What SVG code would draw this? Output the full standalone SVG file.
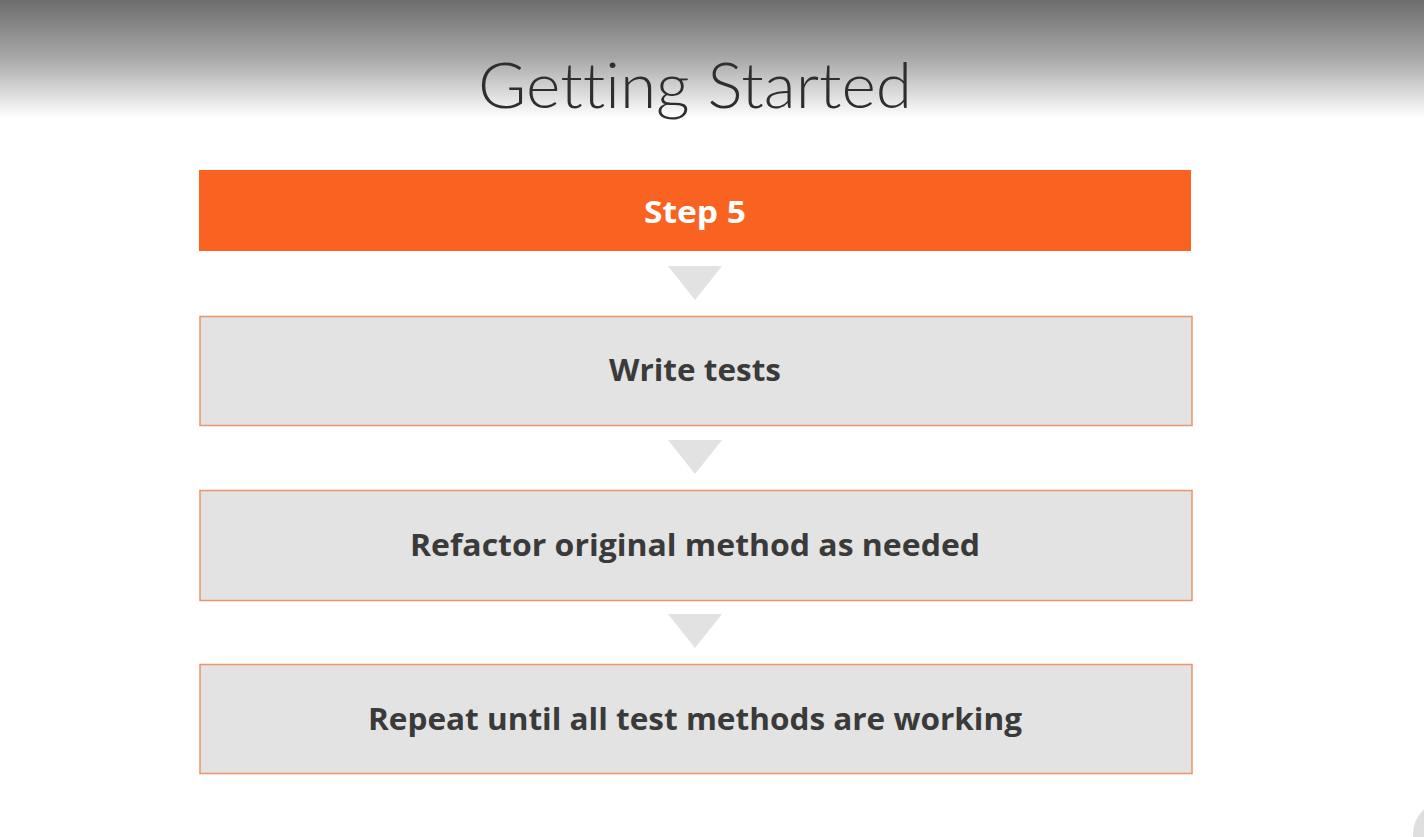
<svg xmlns="http://www.w3.org/2000/svg" width="1424" height="837" viewBox="0 0 1424 837">
<defs>
<linearGradient id="topg" x1="0" y1="0" x2="0" y2="1">
<stop offset="0" stop-color="#6d6d6d"/>
<stop offset="0.5" stop-color="#a9a9a9"/>
<stop offset="1" stop-color="#ffffff"/>
</linearGradient>
</defs>
<style>
.title{font-family:Lato,"Liberation Sans",sans-serif;font-weight:300;font-size:64px;fill:#2e2e2e;font-variant-ligatures:none;font-feature-settings:"liga" 0}
.head{fill:#f96220}
.headt{font-family:"Open Sans","Liberation Sans",sans-serif;font-weight:700;font-size:30px;fill:#ffffff}
.box{fill:#e3e3e3;stroke:#e8956a;stroke-width:1.5}
.lbl{font-family:"Open Sans","Liberation Sans",sans-serif;font-weight:700;font-size:30px;fill:#3a3a3a}
.tri{fill:#e2e2e2}
</style>
<rect x="0" y="0" width="1424" height="837" fill="#ffffff"/>
<rect x="0" y="0" width="1424" height="118" fill="url(#topg)"/>
<text class="title" x="478" y="108" textLength="434" lengthAdjust="spacingAndGlyphs">Getting Started</text>
<g id="step5">
<rect class="head" x="199" y="170" width="992" height="81"/>
<text class="headt" x="644" y="223" textLength="102" lengthAdjust="spacingAndGlyphs">Step 5</text>
</g>
<g id="connectors">
<polygon class="tri" points="668,266 722,266 695,300"/>
<polygon class="tri" points="668,440 722,440 695,474"/>
<polygon class="tri" points="668,614 722,614 695,648"/>
</g>
<g id="write-tests">
<rect class="box" x="200" y="316.5" width="992" height="109"/>
<text class="lbl" x="609" y="381" textLength="172" lengthAdjust="spacingAndGlyphs">Write tests</text>
</g>
<g id="refactor">
<rect class="box" x="200" y="490.5" width="992" height="110"/>
<text class="lbl" x="410" y="556" textLength="570" lengthAdjust="spacingAndGlyphs">Refactor original method as needed</text>
</g>
<g id="repeat">
<rect class="box" x="200" y="664.5" width="992" height="109"/>
<text class="lbl" x="368" y="730" textLength="654" lengthAdjust="spacingAndGlyphs">Repeat until all test methods are working</text>
</g>
<circle cx="1446" cy="834" r="33" fill="#dedede"/>
</svg>
